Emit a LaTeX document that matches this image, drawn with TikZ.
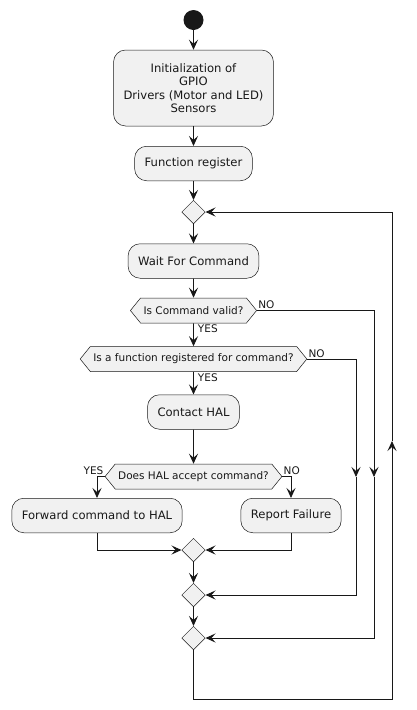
\documentclass[tikz,border=0pt]{standalone}
\usepackage{fontspec}
\setmainfont{DejaVu Sans}
\usetikzlibrary{arrows.meta,shapes.geometric,shapes.symbols}

\definecolor{umlfill}{HTML}{F1F1F1}
\definecolor{umlline}{HTML}{181818}

\begin{document}
\begin{tikzpicture}[x=1pt,y=-1pt,>={Stealth[length=10pt,width=9pt,inset=4pt]},
  line width=0.9pt,color=umlline,
  action/.style={rectangle,rounded corners=12pt,draw=umlline,line width=0.5pt,
  fill=umlfill,font=\fontsize{11.6}{13.4}\selectfont,align=center,
  inner xsep=10pt,minimum height=34.5pt},
  test/.style={signal,signal to=west and east,signal pointer angle=102,
  draw=umlline,line width=0.5pt,fill=umlfill,
  font=\fontsize{10.5}{12}\selectfont,inner xsep=3pt,minimum height=25pt},
  merge/.style={diamond,draw=umlline,line width=0.5pt,fill=umlfill,
  minimum width=23.5pt,minimum height=23.5pt,inner sep=0pt},
  lbl/.style={font=\fontsize{10.5}{12}\selectfont,inner sep=1pt}]

  \useasboundingbox (0,0) rectangle (417,710);

  \node[circle,fill=umlline,minimum size=20pt,inner sep=0pt] (start) at (193.5,20) {};
  \node[action,minimum height=76pt] (init) at (193.5,88)
    {Initialization of\\GPIO\\Drivers (Motor and LED)\\Sensors};
  \node[action] (funcreg) at (193.5,163.5) {Function register};
  \node[merge] (loop) at (193.5,212) {};
  \node[action] (wait) at (193.5,261) {Wait For Command};
  \node[test] (valid) at (193.5,310.5) {Is Command valid?};
  \node[test] (registered) at (193.5,359) {Is a function registered for command?};
  \node[action] (contact) at (193.5,412) {Contact HAL};
  \node[test] (hal) at (193.5,476.5) {Does HAL accept command?};
  \node[action] (forward) at (97,515.5) {Forward command to HAL};
  \node[action] (report) at (291,515.5) {Report Failure};
  \node[merge] (halend) at (193.5,550) {};
  \node[merge] (regend) at (193.5,595) {};
  \node[merge] (validend) at (193.5,638) {};

  % rails on the right
  \coordinate (vtop) at (374,310.5);
  \coordinate (vmid) at (374,477);
  \coordinate (rtop) at (356,359);
  \coordinate (rmid) at (356,477);
  \coordinate (lcorner) at (392,699);
  \coordinate (lmid) at (392,441);

  \path[->]
    (start) edge (init)
    (init) edge (funcreg)
    (funcreg) edge (loop)
    (loop) edge (wait)
    (wait) edge (valid)
    (valid) edge node[lbl,pos=0,anchor=north west,xshift=3pt] {YES} (registered)
    (registered) edge node[lbl,pos=0,anchor=north west,xshift=3pt] {YES} (contact)
    (contact) edge (hal)
    (halend) edge (regend)
    (regend) edge (validend);

  \draw[->] (hal.west) -| node[lbl,pos=0,anchor=south east] {YES} (forward);
  \draw[->] (hal.east) -| node[lbl,pos=0,anchor=south west] {NO} (report);
  \draw[->] (forward) |- (halend);
  \draw[->] (report) |- (halend);

  \draw[->] (registered.east) -- node[lbl,pos=0,anchor=south west] {NO} (rtop) -- (rmid);
  \draw[->] (rmid) |- (regend);
  \draw[->] (valid.east) -- node[lbl,pos=0,anchor=south west] {NO} (vtop) -- (vmid);
  \draw[->] (vmid) |- (validend);
  \draw[->] (validend) |- (lcorner) -- (lmid);
  \draw[->] (lmid) |- (loop);

\end{tikzpicture}
\end{document}
